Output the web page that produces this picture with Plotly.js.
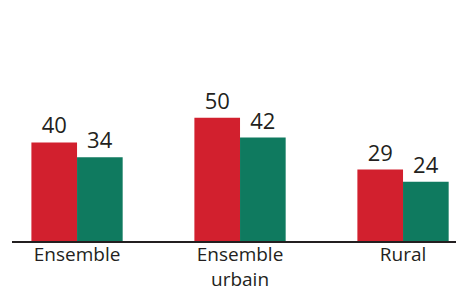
<!DOCTYPE html>
<html>
<head>
<meta charset="utf-8">
<script src="https://cdn.plot.ly/plotly-3.0.1.min.js"></script>
<style>html,body{margin:0;padding:0;background:#fff;}#chart{width:456px;height:292px;}</style>
</head>
<body>
<div id="chart"></div>
<script>
const categories = ["Ensemble", "Ensemble<br>urbain", "Rural"];
const seriesRed = [40, 50, 29];
const seriesGreen = [34, 42, 24];

const textFont = {family: "Open Sans, sans-serif", size: 22, color: "#231f20"};

const traces = [
  {type: "bar", x: categories, y: seriesRed, marker: {color: "#d2202e"},
   text: seriesRed.map(String), textposition: "outside", textfont: textFont, cliponaxis: false, hoverinfo: "none"},
  {type: "bar", x: categories, y: seriesGreen, marker: {color: "#0f7a5f"},
   text: seriesGreen.map(String), textposition: "outside", textfont: textFont, cliponaxis: false, hoverinfo: "none"}
];

const layout = {
  width: 456, height: 292,
  margin: {l: 12, r: 0, t: 0, b: 51},
  paper_bgcolor: "#fff", plot_bgcolor: "#fff",
  barmode: "group", bargap: 0.44, bargroupgap: 0,
  showlegend: false,
  xaxis: {type: "category", range: [-0.399, 2.325], showline: true, linecolor: "#231f20", linewidth: 1.5,
          ticks: "", showgrid: false, zeroline: false, ticklabelstandoff: -4,
          tickfont: {family: "Open Sans, sans-serif", size: 19, color: "#231f20"}},
  yaxis: {range: [0, 97.8], visible: false, showgrid: false, zeroline: false}
};

Plotly.newPlot("chart", traces, layout, {staticPlot: true, displayModeBar: false});
</script>
</body>
</html>
